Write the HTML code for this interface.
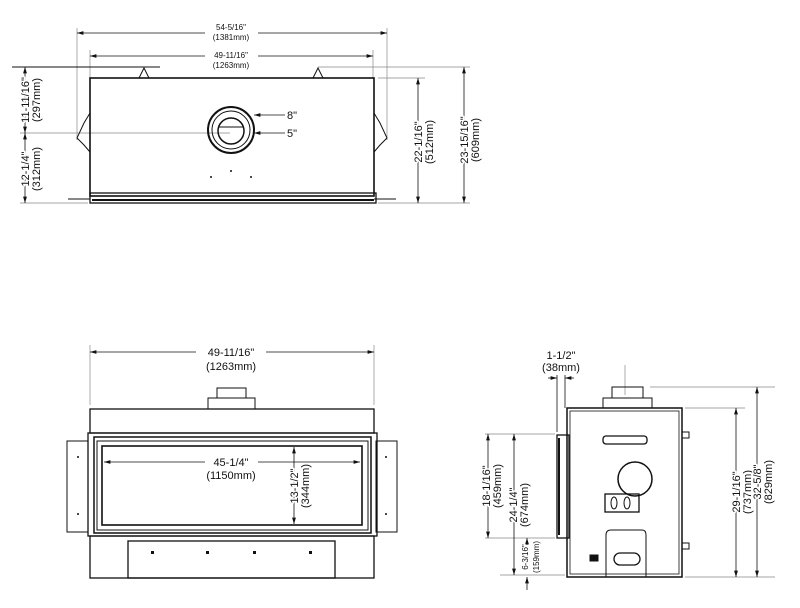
<!DOCTYPE html>
<html><head><meta charset="utf-8"><style>
html,body{margin:0;padding:0;background:#fff}
svg{display:block}
text{font-family:"Liberation Sans",Arial,sans-serif;fill:#111;paint-order:stroke;stroke:#fff;stroke-width:3px;stroke-linejoin:round}
.s{font-size:8px}.m{font-size:11px}
</style></head><body>
<svg width="800" height="608" viewBox="0 0 800 608" xmlns="http://www.w3.org/2000/svg">
<defs>
<marker id="a" viewBox="0 0 10 6" refX="10" refY="3" markerWidth="8" markerHeight="5" orient="auto-start-reverse"><path d="M0,0L10,3L0,6z" fill="#111"/></marker>
</defs>
<g stroke="#111" fill="none">
<!-- TOP VIEW -->
<g stroke="#888" stroke-width="0.7">
<line x1="77" y1="28" x2="77" y2="140"/><line x1="387" y1="28" x2="387" y2="140"/>
<line x1="90" y1="50" x2="90" y2="78"/><line x1="373" y1="50" x2="373" y2="78"/>
<line x1="20" y1="133" x2="230" y2="133"/>
<line x1="20" y1="203" x2="88" y2="203"/><line x1="378" y1="203" x2="470" y2="203"/>
<line x1="318" y1="67" x2="470" y2="67"/><line x1="378" y1="78" x2="425" y2="78"/>
</g>
<line x1="12" y1="67" x2="160" y2="67" stroke-width="1"/>
<line x1="77" y1="33" x2="205" y2="33" stroke-width="0.8" marker-start="url(#a)"/>
<line x1="258" y1="33" x2="387" y2="33" stroke-width="0.8" marker-end="url(#a)"/>
<line x1="90" y1="56" x2="205" y2="56" stroke-width="0.8" marker-start="url(#a)"/>
<line x1="258" y1="56" x2="373" y2="56" stroke-width="0.8" marker-end="url(#a)"/>
<line x1="25" y1="67" x2="25" y2="133" stroke-width="0.8" marker-start="url(#a)" marker-end="url(#a)"/>
<line x1="25" y1="133" x2="25" y2="203" stroke-width="0.8" marker-start="url(#a)" marker-end="url(#a)"/>
<line x1="418" y1="78" x2="418" y2="203" stroke-width="0.8" marker-start="url(#a)" marker-end="url(#a)"/>
<line x1="464" y1="67" x2="464" y2="203" stroke-width="0.8" marker-start="url(#a)" marker-end="url(#a)"/>
<rect x="90" y="78" width="284" height="118" stroke-width="1.6"/>
<path d="M139,78L144,68L149,78M313,78L318,68L323,78" stroke-width="1"/>
<path d="M90,113L84,123L77,138L84,145L90,152M374,113L380,123L387,138L380,145L374,152" stroke-width="1"/>
<line x1="68" y1="199" x2="90" y2="199" stroke-width="1"/><line x1="374" y1="199" x2="396" y2="199" stroke-width="1"/>
<rect x="90" y="193" width="286" height="10" stroke-width="1.3"/>
<line x1="92" y1="200" x2="374" y2="200" stroke-width="2"/>
<circle cx="231" cy="130" r="23" stroke-width="2"/>
<circle cx="231" cy="130" r="19" stroke-width="1"/>
<circle cx="231" cy="131" r="13" stroke-width="1.5"/>
<line x1="218" y1="127" x2="244" y2="127" stroke-width="1"/>
<line x1="254" y1="115" x2="285" y2="115" stroke-width="0.8" marker-start="url(#a)"/>
<line x1="254" y1="133" x2="285" y2="133" stroke-width="0.8" marker-start="url(#a)"/>
<g fill="#111" stroke="none"><circle cx="211" cy="177" r="1"/><circle cx="231" cy="171" r="1"/><circle cx="251" cy="177" r="1"/></g>

<!-- FRONT VIEW -->
<line x1="90" y1="345" x2="90" y2="405" stroke="#888" stroke-width="0.7"/>
<line x1="374" y1="345" x2="374" y2="405" stroke="#888" stroke-width="0.7"/>
<line x1="90" y1="352" x2="196" y2="352" stroke-width="0.8" marker-start="url(#a)"/>
<line x1="266" y1="352" x2="374" y2="352" stroke-width="0.8" marker-end="url(#a)"/>
<rect x="217" y="388" width="29" height="10" stroke-width="1"/>
<rect x="208" y="398" width="47" height="11" stroke-width="1"/>
<rect x="90" y="409" width="284" height="24" stroke-width="1.3"/>
<rect x="88" y="433" width="289" height="103" stroke-width="1.3"/>
<rect x="67" y="441" width="21" height="91" stroke-width="1"/>
<rect x="376" y="441" width="21" height="91" stroke-width="1"/>
<rect x="94" y="437" width="277" height="96" stroke-width="1.5"/>
<rect x="97" y="441" width="271" height="89" stroke-width="1"/>
<rect x="102" y="446" width="260" height="79" stroke-width="1.6"/>
<line x1="104" y1="462" x2="205" y2="462" stroke-width="0.8" marker-start="url(#a)"/>
<line x1="258" y1="462" x2="360" y2="462" stroke-width="0.8" marker-end="url(#a)"/>
<line x1="294" y1="447" x2="294" y2="524" stroke-width="0.8" marker-start="url(#a)" marker-end="url(#a)"/>
<rect x="90" y="536" width="284" height="42" stroke-width="1.3"/>
<rect x="128" y="541" width="207" height="37" stroke-width="1.3"/>
<g fill="#111" stroke="none"><circle cx="78" cy="457" r="1"/><circle cx="78" cy="514" r="1"/><circle cx="386" cy="457" r="1"/><circle cx="386" cy="514" r="1"/>
<rect x="151" y="551" width="3" height="3"/><rect x="206" y="551" width="3" height="3"/><rect x="253" y="551" width="3" height="3"/><rect x="309" y="551" width="3" height="3"/></g>

<!-- SIDE VIEW -->
<line x1="625" y1="365" x2="625" y2="395" stroke="#888" stroke-width="0.7"/>
<line x1="557" y1="375" x2="557" y2="432" stroke-width="0.8"/>
<line x1="565" y1="375" x2="565" y2="408" stroke-width="0.8"/>
<line x1="548" y1="378" x2="557" y2="378" stroke-width="0.8" marker-end="url(#a)"/>
<line x1="574" y1="378" x2="565" y2="378" stroke-width="0.8" marker-end="url(#a)"/>
<g stroke="#888" stroke-width="0.7">
<line x1="485" y1="434" x2="555" y2="434"/><line x1="485" y1="538" x2="555" y2="538"/>
<line x1="500" y1="575" x2="565" y2="575"/>
<line x1="650" y1="387" x2="775" y2="387"/><line x1="685" y1="408" x2="745" y2="408"/>
<line x1="685" y1="577" x2="775" y2="577"/>
</g>
<line x1="488" y1="434" x2="488" y2="538" stroke-width="0.8" marker-start="url(#a)" marker-end="url(#a)"/>
<line x1="514" y1="434" x2="514" y2="575" stroke-width="0.8" marker-start="url(#a)" marker-end="url(#a)"/>
<line x1="527" y1="545" x2="527" y2="538" stroke-width="0.8" marker-end="url(#a)"/>
<line x1="527" y1="590" x2="527" y2="577" stroke-width="0.8" marker-end="url(#a)"/>
<line x1="736" y1="408" x2="736" y2="577" stroke-width="0.8" marker-start="url(#a)" marker-end="url(#a)"/>
<line x1="757" y1="387" x2="757" y2="577" stroke-width="0.8" marker-start="url(#a)" marker-end="url(#a)"/>
<rect x="612" y="387" width="31" height="11" stroke-width="1"/>
<rect x="603" y="398" width="49" height="10" stroke-width="1"/>
<rect x="567" y="408" width="115" height="169" stroke-width="1.5"/>
<rect x="570" y="411" width="109" height="163" stroke-width="0.8"/>
<rect x="557" y="435" width="12" height="103" stroke-width="1.3"/>
<line x1="559" y1="438" x2="559" y2="535" stroke-width="2"/>
<rect x="682" y="432" width="7" height="6" stroke-width="1"/>
<rect x="682" y="543" width="7" height="6" stroke-width="1"/>
<rect x="603" y="436" width="44" height="8" rx="3" stroke-width="1.3"/>
<circle cx="635" cy="479" r="17" stroke-width="1.5"/>
<rect x="605" y="494" width="34" height="18" stroke-width="1.3"/>
<ellipse cx="614" cy="503" rx="3" ry="6" stroke-width="1"/><ellipse cx="627" cy="503" rx="3" ry="6" stroke-width="1"/>
<path d="M606,577V535Q606,530 611,530H642Q646,530 646,535V577" stroke-width="1"/>
<rect x="614" y="553" width="26" height="12" rx="6" stroke-width="1.3"/>
<rect x="590" y="555" width="8" height="6" fill="#111"/>
</g>

<!-- TEXT -->
<g text-anchor="middle">
<text class="s" x="231" y="30">54-5/16"</text><text class="s" x="231" y="40">(1381mm)</text>
<text class="s" x="231" y="58">49-11/16"</text><text class="s" x="231" y="68">(1263mm)</text>
<text class="m" x="292" y="119">8"</text><text class="m" x="292" y="137">5"</text>
<text class="m" transform="translate(29,100) rotate(-90)">11-11/16"</text><text class="m" transform="translate(40,100) rotate(-90)">(297mm)</text>
<text class="m" transform="translate(29,169) rotate(-90)">12-1/4"</text><text class="m" transform="translate(40,169) rotate(-90)">(312mm)</text>
<text class="m" transform="translate(422,142) rotate(-90)">22-1/16"</text><text class="m" transform="translate(433,142) rotate(-90)">(512mm)</text>
<text class="m" transform="translate(468,140) rotate(-90)">23-15/16"</text><text class="m" transform="translate(479,140) rotate(-90)">(609mm)</text>
<text class="m" x="231" y="356">49-11/16"</text><text class="m" x="231" y="370">(1263mm)</text>
<text class="m" x="231" y="466">45-1/4"</text><text class="m" x="231" y="479">(1150mm)</text>
<text class="m" transform="translate(298,486) rotate(-90)">13-1/2"</text><text class="m" transform="translate(309,486) rotate(-90)">(344mm)</text>
<text class="m" x="561" y="359">1-1/2"</text><text class="m" x="561" y="371">(38mm)</text>
<text class="m" transform="translate(490,486) rotate(-90)">18-1/16"</text><text class="m" transform="translate(501,486) rotate(-90)">(459mm)</text>
<text class="m" transform="translate(517,505) rotate(-90)">24-1/4"</text><text class="m" transform="translate(528,505) rotate(-90)">(674mm)</text>
<text class="s" transform="translate(528,557) rotate(-90)">6-3/16"</text><text class="s" transform="translate(539,557) rotate(-90)">(159mm)</text>
<text class="m" transform="translate(740,492) rotate(-90)">29-1/16"</text><text class="m" transform="translate(751,492) rotate(-90)">(737mm)</text>
<text class="m" transform="translate(761,482) rotate(-90)">32-5/8"</text><text class="m" transform="translate(772,482) rotate(-90)">(829mm)</text>
</g>
</svg>
</body></html>
